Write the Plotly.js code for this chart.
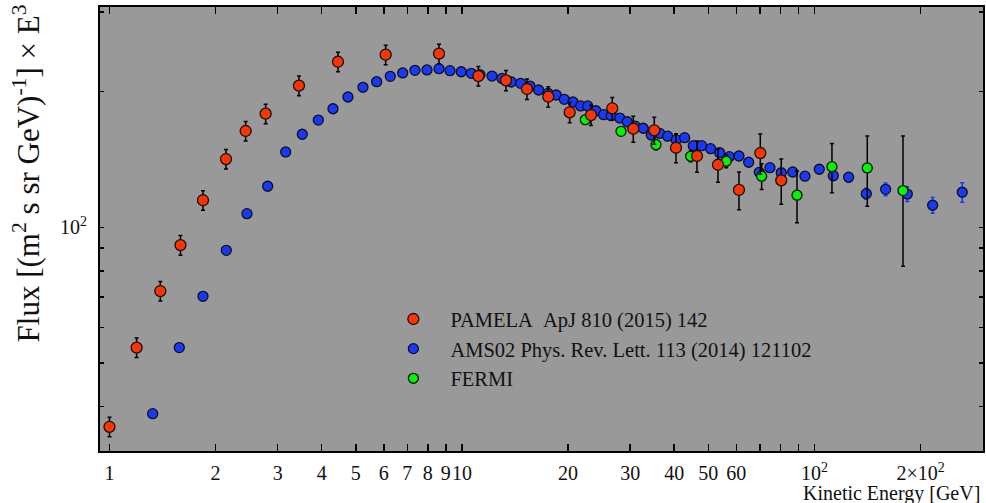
<!DOCTYPE html>
<html>
<head>
<meta charset="utf-8">
<script src="https://cdn.plot.ly/plotly-3.0.1.min.js"></script>
<style>html,body{margin:0;padding:0;background:#fff}</style>
</head>
<body>
<div id="chart" style="width:986px;height:503px"></div>
<script>
// PAMELA ApJ 810 (2015) 142
const pamelaE = [1.0, 1.194, 1.394, 1.590, 1.842, 2.141, 2.434, 2.774, 3.448, 4.449, 6.075, 8.607, 11.13, 13.33, 15.29, 17.57, 20.21, 23.23, 26.69, 30.62, 35.12, 40.47, 46.42, 53.24, 61.07, 70.2, 80.5];
const pamelaF = [36.1, 54.1, 72.2, 91.3, 114.8, 141.7, 163.5, 178.6, 206.1, 232.9, 241.4, 242.7, 216.5, 211.8, 202.6, 194.8, 179.9, 177.4, 183.6, 165.4, 164.1, 150.1, 143.9, 137.6, 121.0, 146.1, 127.1];
const pamelaErr = [1.8, 2.7, 3.6, 4.6, 5.7, 7.1, 8.2, 8.9, 10.3, 11.6, 12.0, 12.1, 10.8, 11.0, 10.5, 10.1, 9.4, 9.2, 10.5, 11.0, 11.3, 11.1, 11.5, 11.7, 11.6, 15.0, 14.6];

// AMS02 Phys. Rev. Lett. 113 (2014) 121102
const amsE = [1.326, 1.578, 1.842, 2.145, 2.455, 2.811, 3.161, 3.524, 3.912, 4.306, 4.749, 5.238, 5.728, 6.261, 6.789, 7.356, 7.957, 8.607, 9.247, 9.954, 10.63, 11.25, 12.17, 12.99, 13.8, 14.67, 15.59, 16.5, 17.54, 18.51, 19.51, 20.65, 21.71, 22.73, 23.99, 25.23, 26.52, 28.03, 29.44, 30.97, 32.68, 34.44, 36.38, 38.33, 40.55, 42.83, 45.31, 47.86, 50.76, 53.83, 57.32, 61.07, 65.06, 69.73, 74.77, 80.5, 86.75, 93.98, 103.2, 113.1, 125.0, 140.3, 159.2, 183.4, 216.4, 262.6];
const amsF = [38.6, 54.1, 70.3, 88.9, 107.2, 123.3, 146.9, 160.8, 172.9, 183.2, 194.5, 204.4, 210.3, 216.2, 219.9, 222.9, 223.3, 224.8, 222.5, 221.3, 219.5, 218.0, 216.5, 213.9, 210.0, 208.6, 205.7, 201.6, 198.2, 196.5, 192.2, 189.6, 185.8, 185.8, 181.3, 177.7, 176.8, 174.7, 171.4, 167.7, 165.8, 160.2, 161.6, 159.2, 156.2, 158.0, 151.7, 151.7, 149.4, 146.3, 143.4, 143.9, 139.4, 132.4, 135.6, 132.1, 132.6, 129.8, 134.5, 130.1, 129.1, 118.7, 121.4, 118.5, 111.9, 119.6];
const amsErr = [0.8, 1.0, 1.2, 1.4, 1.6, 1.8, 2.0, 2.0, 2.0, 2.0, 2.0, 2.0, 2.0, 2.0, 2.0, 2.0, 2.0, 2.0, 2.0, 2.0, 2.0, 2.0, 2.0, 2.0, 2.0, 2.0, 2.0, 2.0, 2.0, 2.0, 2.0, 2.0, 2.0, 2.0, 2.0, 2.0, 2.0, 2.0, 2.0, 2.0, 2.0, 2.0, 2.0, 2.0, 2.0, 2.0, 2.0, 2.0, 2.0, 2.0, 2.0, 2.0, 2.0, 2.2, 2.2, 2.3, 2.4, 2.5, 2.7, 2.8, 3.0, 3.3, 4.0, 4.5, 4.5, 6.0];

// FERMI
const fermiE = [22.38, 28.26, 35.52, 44.55, 56.21, 70.83, 89.22, 112.1, 141.2, 178.3];
const fermiF = [173.2, 163.2, 152.5, 143.7, 140.1, 129.8, 117.8, 136.3, 135.4, 120.6];
const fermiErr = [3.0, 3.0, 4.0, 4.0, 4.5, 8.6, 15.5, 17.0, 24.0, 38.7];

// axis ticks
const xTickVals = [1, 2, 3, 4, 5, 6, 7, 8, 9, 10, 20, 30, 40, 50, 60, 70, 80, 90, 100, 200];
const xTickText = ['1', '2', '3', '4', '5', '6', '7', '8', '9', '10', '20', '30', '40', '50', '60', '', '', '', '10<sup>2</sup>', '2\u00d710<sup>2</sup>'];
const xLongTicks = [1, 10, 100];
const yTickVals = [40, 50, 60, 70, 80, 90, 100, 200, 300];
const yTickText = ['', '', '', '', '', '', '10<sup>2</sup>', '', ''];
const yLongTicks = [100];

const FONT = 'Liberation Serif, Times New Roman, serif';
const xRange = [Math.log10(0.94), Math.log10(300.7)];
const yRange = [Math.log10(31.9), Math.log10(308)];

const traces = [
  {
    x: amsE, y: amsF, type: 'scatter', mode: 'markers',
    name: 'AMS02 Phys. Rev. Lett. 113 (2014) 121102', legendrank: 2,
    marker: {color: '#1638ff', size: 10, line: {color: '#111', width: 1.3}},
    error_y: {type: 'data', array: amsErr, visible: true, color: '#1638ff', thickness: 1.5, width: 2}
  },
  {
    x: fermiE, y: fermiF, type: 'scatter', mode: 'markers',
    name: 'FERMI', legendrank: 3,
    marker: {color: '#00f500', size: 10, line: {color: '#111', width: 1.3}},
    error_y: {type: 'data', array: fermiErr, visible: true, color: '#000', thickness: 1.5, width: 2}
  },
  {
    x: pamelaE, y: pamelaF, type: 'scatter', mode: 'markers',
    name: 'PAMELA\u00a0\u00a0ApJ 810 (2015) 142', legendrank: 1,
    marker: {color: '#ff3300', size: 11, line: {color: '#111', width: 1.3}},
    error_y: {type: 'data', array: pamelaErr, visible: true, color: '#000', thickness: 1.5, width: 2}
  }
];

const layout = {
  width: 986, height: 503,
  margin: {l: 100, r: 3, t: 7, b: 52, pad: 0},
  paper_bgcolor: '#ffffff',
  plot_bgcolor: '#999999',
  font: {family: FONT, size: 20, color: '#000'},
  showlegend: true,
  legend: {
    x: 0.313, y: 0.342, xanchor: 'left', yanchor: 'top',
    bgcolor: 'rgba(0,0,0,0)', borderwidth: 0, itemwidth: 64,
    font: {family: FONT, size: 20.5, color: '#111'},
    tracegroupgap: 0
  },
  xaxis: {
    type: 'log', range: xRange, autorange: false,
    tickmode: 'array', tickvals: xTickVals, ticktext: xTickText, tickangle: 0,
    ticks: 'inside', ticklen: 7, tickwidth: 1.5, tickcolor: '#000',
    showline: true, linewidth: 2, linecolor: '#000', mirror: 'ticks',
    showgrid: false, zeroline: false, ticklabelstandoff: 3,
    tickfont: {family: FONT, size: 20, color: '#111'}
  },
  xaxis2: {
    type: 'log', range: xRange, autorange: false, overlaying: 'x', anchor: 'y', side: 'bottom',
    tickmode: 'array', tickvals: xLongTicks, showticklabels: false,
    ticks: 'inside', ticklen: 12, tickwidth: 1.5, tickcolor: '#000',
    showline: false, mirror: 'ticks', showgrid: false, zeroline: false
  },
  yaxis: {
    type: 'log', range: yRange, autorange: false,
    tickmode: 'array', tickvals: yTickVals, ticktext: yTickText,
    ticks: 'inside', ticklen: 4, tickwidth: 1.5, tickcolor: '#000',
    showline: true, linewidth: 2, linecolor: '#000', mirror: 'ticks',
    showgrid: false, zeroline: false, ticklabelstandoff: 7,
    tickfont: {family: FONT, size: 20, color: '#111'}
  },
  yaxis2: {
    type: 'log', range: yRange, autorange: false, overlaying: 'y', anchor: 'x', side: 'left',
    tickmode: 'array', tickvals: yLongTicks, showticklabels: false,
    ticks: 'inside', ticklen: 8, tickwidth: 1.5, tickcolor: '#000',
    showline: false, mirror: 'ticks', showgrid: false, zeroline: false
  },
  annotations: [
    {
      text: 'Flux [(m<sup>2</sup> s sr GeV)<sup>-1</sup>] \u00d7 E<sup>3</sup>',
      xref: 'paper', yref: 'paper', x: -0.0835, y: 1.011,
      xanchor: 'center', yanchor: 'top', textangle: -90, showarrow: false,
      font: {family: FONT, size: 31, color: '#111'}
    },
    {
      text: 'Kinetic Energy [GeV]',
      xref: 'paper', yref: 'paper', x: 0.999, y: -0.0946,
      xanchor: 'right', yanchor: 'middle', showarrow: false,
      font: {family: FONT, size: 20, color: '#111'}
    }
  ]
};

Plotly.newPlot('chart', traces, layout, {displayModeBar: false, staticPlot: true});
</script>
</body>
</html>
